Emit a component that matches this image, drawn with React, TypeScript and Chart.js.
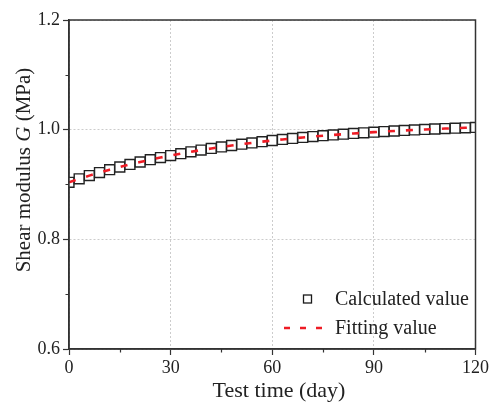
import React, { useEffect, useRef } from "react";
import { Chart, registerables } from "chart.js";

Chart.register(...registerables);

const days: number[] = [0,3,6,9,12,15,18,21,24,27,30,33,36,39,42,45,48,51,54,57,60,63,66,69,72,75,78,81,84,87,90,93,96,99,102,105,108,111,114,117,120];
const calculated: number[] = [0.904,0.9103,0.9162,0.9217,0.927,0.9319,0.9366,0.941,0.9452,0.9491,0.9528,0.9563,0.9596,0.9628,0.9657,0.9685,0.9711,0.9736,0.9759,0.9781,0.9802,0.9822,0.984,0.9858,0.9874,0.989,0.9904,0.9918,0.9931,0.9943,0.9955,0.9966,0.9976,0.9986,0.9995,1.0004,1.0012,1.002,1.0027,1.0034,1.0041];
const fitting: number[] = [0.904,0.9103,0.9162,0.9217,0.927,0.9319,0.9366,0.941,0.9452,0.9491,0.9528,0.9563,0.9596,0.9628,0.9657,0.9685,0.9711,0.9736,0.9759,0.9781,0.9802,0.9822,0.984,0.9858,0.9874,0.989,0.9904,0.9918,0.9931,0.9943,0.9955,0.9966,0.9976,0.9986,0.9995,1.0004,1.0012,1.002,1.0027,1.0034,1.0041];
const xTicks: number[] = [0, 30, 60, 90, 120];
const xMinor: number[] = [15, 45, 75, 105];
const yTicks: number[] = [0.6, 0.8, 1.0, 1.2];
const yMinor: number[] = [0.7, 0.9, 1.1];
const legendLabels: string[] = ["Calculated value", "Fitting value"];

const FONT = "'Liberation Serif', 'Times New Roman', serif";
const AXIS = "#333333";
const RED = "#ee1c25";

const framePlugin = {
  id: "frame",
  afterDatasetsDraw(chart: any) {
    const { ctx, chartArea: a, scales } = chart;
    const xs = scales.x, ys = scales.y;
    ctx.save();
    ctx.strokeStyle = AXIS;
    ctx.lineWidth = 1.2;
    ctx.beginPath();
    xMinor.forEach((v) => {
      const px = Math.round(xs.getPixelForValue(v)) + 0.5;
      ctx.moveTo(px, a.bottom);
      ctx.lineTo(px, a.bottom + 3.5);
    });
    yMinor.forEach((v) => {
      const py = Math.round(ys.getPixelForValue(v)) + 0.5;
      ctx.moveTo(a.left, py);
      ctx.lineTo(a.left - 3.5, py);
    });
    ctx.stroke();
    ctx.lineWidth = 1.5;
    ctx.strokeRect(a.left, a.top, a.right - a.left, a.bottom - a.top);

    // legend
    const lx = 307.5, ly1 = 299, ly2 = 328;
    ctx.lineWidth = 1.3;
    ctx.strokeStyle = "#1a1a1a";
    ctx.fillStyle = "#ffffff";
    ctx.fillRect(lx - 4, ly1 - 4, 8, 8);
    ctx.strokeRect(lx - 4, ly1 - 4, 8, 8);
    ctx.strokeStyle = RED;
    ctx.lineWidth = 2.5;
    ctx.setLineDash([6, 10]);
    ctx.beginPath();
    ctx.moveTo(284, ly2);
    ctx.lineTo(332, ly2);
    ctx.stroke();
    ctx.setLineDash([]);
    ctx.fillStyle = "#222";
    ctx.font = `20px ${FONT}`;
    ctx.textBaseline = "middle";
    ctx.textAlign = "left";
    ctx.fillText(legendLabels[0], 335, ly1 + 1);
    ctx.fillText(legendLabels[1], 335, ly2 + 1);

    // x title
    ctx.font = `22px ${FONT}`;
    ctx.textAlign = "center";
    ctx.textBaseline = "alphabetic";
    ctx.fillText("Test time (day)", 279, 397);

    // y title with italic G
    ctx.save();
    ctx.translate(24, 170);
    ctx.rotate(-Math.PI / 2);
    const p1 = "Shear modulus ";
    const p2 = "G";
    const p3 = " (MPa)";
    const fs = 21;
    ctx.font = `${fs}px ${FONT}`;
    const w1 = ctx.measureText(p1).width;
    const w3 = ctx.measureText(p3).width;
    ctx.font = `italic ${fs}px ${FONT}`;
    const w2 = ctx.measureText(p2).width;
    const total = w1 + w2 + w3;
    const x0 = -total / 2;
    ctx.textAlign = "left";
    ctx.textBaseline = "middle";
    ctx.font = `${fs}px ${FONT}`;
    ctx.fillText(p1, x0, 0);
    ctx.font = `italic ${fs}px ${FONT}`;
    ctx.fillText(p2, x0 + w1, 0);
    ctx.font = `${fs}px ${FONT}`;
    ctx.fillText(p3, x0 + w1 + w2, 0);
    ctx.restore();

    ctx.restore();
  },
};

const gridOpts = {
  color: "#cccccc",
  lineWidth: 1,
  tickColor: AXIS,
  tickLength: 6,
  tickWidth: 1.2,
  tickBorderDash: [0, 0],
};

export default function App() {
  const ref = useRef<HTMLCanvasElement>(null);
  useEffect(() => {
    document.body.style.margin = "0";
    const chart = new Chart(ref.current!, {
      type: "scatter",
      data: {
        datasets: [
          {
            label: legendLabels[1],
            data: days.map((d, i) => ({ x: d, y: fitting[i] })),
            showLine: true,
            borderColor: RED,
            borderWidth: 2.6,
            borderDash: [7, 11],
            pointRadius: 0,
            order: 0,
          },
          {
            label: legendLabels[0],
            data: days.map((d, i) => ({ x: d, y: calculated[i] })),
            showLine: false,
            pointStyle: "rect",
            pointRadius: 7,
            pointBorderWidth: 1.4,
            pointBorderColor: "#222222",
            pointBackgroundColor: "#ffffff",
            order: 1,
          },
        ],
      },
      options: {
        animation: false,
        responsive: false,
        maintainAspectRatio: false,
        layout: { padding: { left: 0, right: 14, top: 20, bottom: 0 } },
        plugins: { legend: { display: false }, tooltip: { enabled: false } },
        scales: {
          x: {
            type: "linear",
            min: 0,
            max: 120,
            afterBuildTicks: (s: any) => {
              s.ticks = xTicks.map((v) => ({ value: v }));
            },
            afterFit: (s: any) => {
              s.height = 53;
            },
            border: { display: true, color: AXIS, width: 1.5, dash: [2, 2] },
            grid: gridOpts,
            ticks: {
              color: "#222",
              font: { family: FONT, size: 18 },
              padding: 2,
              maxRotation: 0,
              callback: (v: any) => String(v),
            },
          },
          y: {
            type: "linear",
            min: 0.6,
            max: 1.2,
            afterBuildTicks: (s: any) => {
              s.ticks = yTicks.map((v) => ({ value: v }));
            },
            afterFit: (s: any) => {
              s.width = 69;
            },
            border: { display: true, color: AXIS, width: 1.5, dash: [2, 2] },
            grid: gridOpts,
            ticks: {
              color: "#222",
              font: { family: FONT, size: 18 },
              padding: 3,
              callback: (v: any) => Number(v).toFixed(1),
            },
          },
        },
      },
      plugins: [framePlugin],
    });
    return () => chart.destroy();
  }, []);
  return (
    <div style={{ width: 491, height: 402, position: "relative" }}>
      <canvas ref={ref} width={491} height={402} style={{ width: 491, height: 402 }} />
    </div>
  );
}
